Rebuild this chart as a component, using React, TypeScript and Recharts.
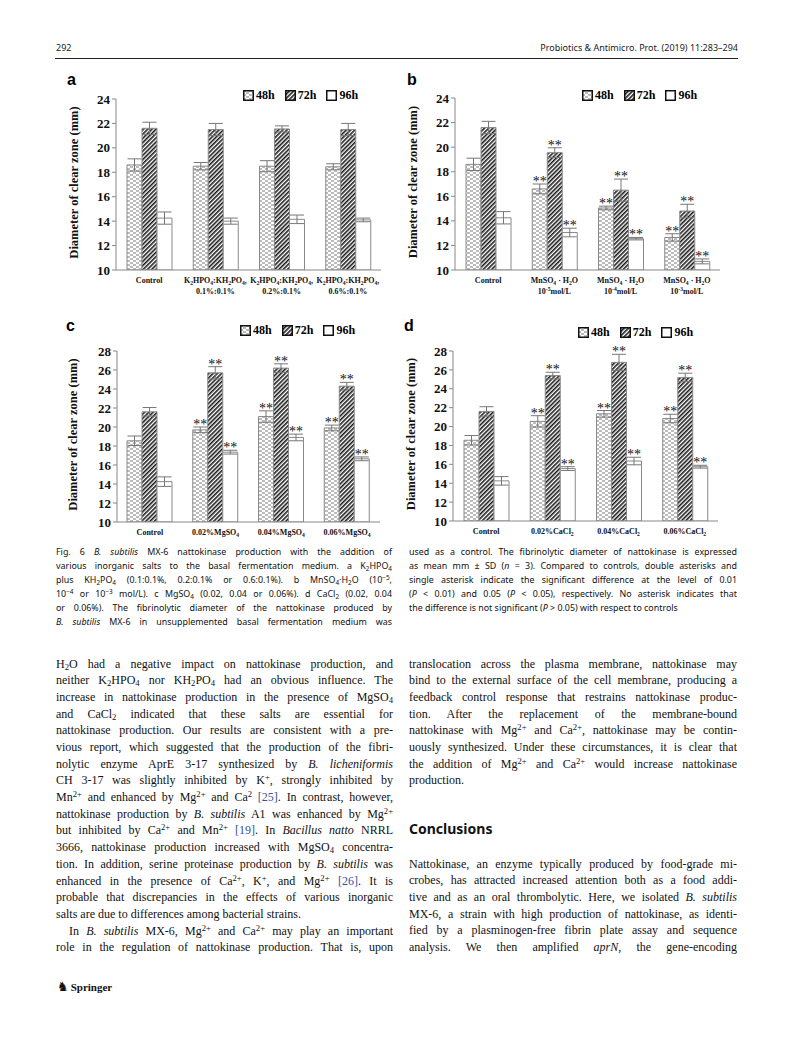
import React from "react";
import { BarChart, Bar, XAxis, YAxis, ErrorBar, LabelList } from "recharts";

const SERIF = '"Liberation Serif", "Times New Roman", serif';
const SANS = '"Noto Sans", "Liberation Sans", sans-serif';

// ---- data ----
const seriesNames = ["48h", "72h", "96h"];

const catsA = [
  "Control",
  "K_{2}HPO_{4}:KH_{2}PO_{4},|0.1%:0.1%",
  "K_{2}HPO_{4}:KH_{2}PO_{4},|0.2%:0.1%",
  "K_{2}HPO_{4}:KH_{2}PO_{4},|0.6%:0.1%",
];
const a48 = [18.6, 18.5, 18.5, 18.45];
const a48err = [0.5, 0.3, 0.45, 0.25];
const a72 = [21.6, 21.5, 21.55, 21.5];
const a72err = [0.5, 0.5, 0.25, 0.5];
const a96 = [14.25, 14.0, 14.15, 14.1];
const a96err = [0.5, 0.25, 0.35, 0.15];
const aSig = ["", "", "", ""];

const catsB = [
  "Control",
  "MnSO_{4} · H_{2}O|10^{-5}mol/L",
  "MnSO_{4} · H_{2}O|10^{-4}mol/L",
  "MnSO_{4} · H_{2}O|10^{-3}mol/L",
];
const b48 = [18.6, 16.6, 15.05, 12.65];
const b48err = [0.5, 0.4, 0.15, 0.3];
const b72 = [21.6, 19.55, 16.5, 14.8];
const b72err = [0.5, 0.4, 0.9, 0.55];
const b96 = [14.25, 13.05, 12.55, 10.7];
const b96err = [0.5, 0.35, 0.1, 0.2];
const bSig = ["", "**", "**", "**"];

const catsC = ["Control", "0.02%MgSO_{4}", "0.04%MgSO_{4}", "0.06%MgSO_{4}"];
const c48 = [18.55, 19.7, 21.1, 19.9];
const c48err = [0.5, 0.3, 0.6, 0.3];
const c72 = [21.6, 25.7, 26.2, 24.3];
const c72err = [0.45, 0.65, 0.45, 0.4];
const c96 = [14.25, 17.35, 18.9, 16.65];
const c96err = [0.5, 0.2, 0.35, 0.2];
const cSig = ["", "**", "**", "**"];

const catsD = ["Control", "0.02%CaCl_{2}", "0.04%CaCl_{2}", "0.06%CaCl_{2}"];
const d48 = [18.55, 20.55, 21.35, 20.85];
const d48err = [0.5, 0.6, 0.35, 0.45];
const d72 = [21.6, 25.4, 26.8, 25.2];
const d72err = [0.5, 0.35, 0.85, 0.45];
const d96 = [14.25, 15.55, 16.35, 15.75];
const d96err = [0.45, 0.2, 0.4, 0.15];
const dSig = ["", "**", "**", "**"];

const ticksAB = [10, 12, 14, 16, 18, 20, 22, 24];
const ticksCD = [10, 12, 14, 16, 18, 20, 22, 24, 26, 28];

const yTitle = "Diameter of clear zone (mm)";

// ---- layout ----
type Panel = {
  letter: string;
  cats: string[];
  vals: number[][];
  errs: number[][];
  sig: string[];
  ticks: number[];
  box: { left: number; top: number; width: number; height: number };
  plot: { x0: number; y0: number; x1: number; y1: number };
  legend: { x: number; y: number };
  letterPos: { x: number; y: number };
  yLabelX: number;
};

const panels: Panel[] = [
  {
    letter: "a",
    cats: catsA,
    vals: [a48, a72, a96],
    errs: [a48err, a72err, a96err],
    sig: aSig,
    ticks: ticksAB,
    box: { left: 55, top: 68, width: 335, height: 240 },
    plot: { x0: 116, y0: 99, x1: 381, y1: 270 },
    legend: { x: 243, y: 89 },
    letterPos: { x: 67, y: 72 },
    yLabelX: 74,
  },
  {
    letter: "b",
    cats: catsB,
    vals: [b48, b72, b96],
    errs: [b48err, b72err, b96err],
    sig: bSig,
    ticks: ticksAB,
    box: { left: 395, top: 68, width: 335, height: 240 },
    plot: { x0: 455, y0: 98, x1: 720, y1: 270 },
    legend: { x: 582, y: 89 },
    letterPos: { x: 407, y: 72 },
    yLabelX: 413,
  },
  {
    letter: "c",
    cats: catsC,
    vals: [c48, c72, c96],
    errs: [c48err, c72err, c96err],
    sig: cSig,
    ticks: ticksCD,
    box: { left: 55, top: 314, width: 335, height: 232 },
    plot: { x0: 117, y0: 351, x1: 380, y1: 522 },
    legend: { x: 240, y: 324 },
    letterPos: { x: 66, y: 318 },
    yLabelX: 73,
  },
  {
    letter: "d",
    cats: catsD,
    vals: [d48, d72, d96],
    errs: [d48err, d72err, d96err],
    sig: dSig,
    ticks: ticksCD,
    box: { left: 395, top: 314, width: 335, height: 232 },
    plot: { x0: 453, y0: 351, x1: 718, y1: 521 },
    legend: { x: 578, y: 326 },
    letterPos: { x: 404, y: 318 },
    yLabelX: 411,
  },
];

const fills = ["url(#pat48)", "url(#pat72)", "#ffffff"];

// ---- helpers ----
function svgRich(s: string, fs: number) {
  const parts = s.split(/(_\{[^}]*\}|\^\{[^}]*\})/).filter(Boolean);
  let shift = 0;
  return parts.map((t, i) => {
    let target = 0;
    let txt = t;
    let size = fs;
    if (t.startsWith("_{")) {
      target = fs * 0.25;
      txt = t.slice(2, -1);
      size = fs * 0.7;
    } else if (t.startsWith("^{")) {
      target = -fs * 0.4;
      txt = t.slice(2, -1);
      size = fs * 0.7;
    }
    const dy = target - shift;
    shift = target;
    return (
      <tspan key={i} dy={dy} fontSize={size}>
        {txt}
      </tspan>
    );
  });
}

function rich(s: string) {
  const parts = s.split(/(_\{[^}]*\}|\^\{[^}]*\}|\*[^*]+\*|\[\d+\])/).filter((t) => t !== "");
  return parts.map((t, i) => {
    if (t.startsWith("_{"))
      return (
        <sub key={i} style={{ fontSize: "0.72em", lineHeight: 0, verticalAlign: "-0.25em" }}>
          {t.slice(2, -1)}
        </sub>
      );
    if (t.startsWith("^{"))
      return (
        <sup key={i} style={{ fontSize: "0.72em", lineHeight: 0, verticalAlign: "0.45em" }}>
          {t.slice(2, -1)}
        </sup>
      );
    if (t.length > 2 && t.startsWith("*") && t.endsWith("*")) return <i key={i}>{t.slice(1, -1)}</i>;
    if (/^\[\d+\]$/.test(t))
      return (
        <span key={i} style={{ color: "#34509c" }}>
          {t}
        </span>
      );
    return <React.Fragment key={i}>{t}</React.Fragment>;
  });
}

const CatTick = (props: any) => {
  const { x, y, payload } = props;
  const lines = String(payload.value).split("|");
  return (
    <g transform={`translate(${x},${y})`}>
      {lines.map((ln, i) => (
        <text
          key={i}
          x={0}
          y={5 + i * 11}
          textAnchor="middle"
          fontFamily={SERIF}
          fontWeight="bold"
          fontSize={8}
          fill="#111"
        >
          {svgRich(ln, 8)}
        </text>
      ))}
    </g>
  );
};

function starContent(vals: number[], errs: number[]) {
  return (props: any) => {
    const vb = props.viewBox || props;
    const { x, y, width, height } = vb;
    const idx = props.index;
    if (props.value !== "**" || idx == null) return null;
    const ppu = height / (vals[idx] - 10);
    const errPx = errs[idx] * ppu;
    return (
      <text
        x={x + width / 2}
        y={y - errPx + 2}
        textAnchor="middle"
        fontFamily={SERIF}
        fontSize={14}
        fill="#111"
      >
        **
      </text>
    );
  };
}

function LegendBox({ p }: { p: Panel }) {
  return (
    <div
      style={{
        position: "absolute",
        left: p.legend.x,
        top: p.legend.y,
        display: "flex",
        alignItems: "center",
        gap: 10,
        fontFamily: SERIF,
        fontWeight: "bold",
        fontSize: 12,
        lineHeight: "12px",
      }}
    >
      {seriesNames.map((n, i) => (
        <div key={n} style={{ display: "flex", alignItems: "center", gap: 2 }}>
          <svg width={11} height={11}>
            <rect x={0.75} y={0.75} width={9.5} height={9.5} fill={fills[i]} stroke="#111" strokeWidth={1.5} />
          </svg>
          <span>{n}</span>
        </div>
      ))}
    </div>
  );
}

function ChartPanel({ p }: { p: Panel }) {
  const { box, plot } = p;
  const data = p.cats.map((cat, i) => ({
    cat,
    v48: p.vals[0][i],
    v72: p.vals[1][i],
    v96: p.vals[2][i],
    e48: p.errs[0][i],
    e72: p.errs[1][i],
    e96: p.errs[2][i],
    sig: p.sig[i],
  }));
  const margin = {
    top: plot.y0 - box.top,
    right: box.left + box.width - plot.x1,
    bottom: 0,
    left: 0,
  };
  const yMax = p.ticks[p.ticks.length - 1];
  const labelX = p.yLabelX - box.left;
  const keys = ["48", "72", "96"];
  return (
    <>
      <div
        style={{
          position: "absolute",
          left: p.letterPos.x,
          top: p.letterPos.y,
          fontFamily: '"Liberation Sans", Arial, sans-serif',
          fontWeight: "bold",
          fontSize: 16,
          lineHeight: "16px",
        }}
      >
        {p.letter}
      </div>
      <div style={{ position: "absolute", left: box.left, top: box.top }}>
        <BarChart width={box.width} height={box.height} data={data} margin={margin} barGap={0} barSize={15}>
          <XAxis
            dataKey="cat"
            height={box.top + box.height - plot.y1}
            interval={0}
            tickLine={false}
            axisLine={{ stroke: "#888" }}
            tick={<CatTick />}
          />
          <YAxis
            width={plot.x0 - box.left}
            domain={[10, yMax]}
            ticks={p.ticks}
            interval={0}
            allowDataOverflow
            axisLine={{ stroke: "#888" }}
            tickLine={{ stroke: "#888" }}
            tickSize={4}
            tick={{ fontFamily: SERIF, fontWeight: "bold", fontSize: 13, fill: "#111" }}
            label={{
              position: "insideLeft",
              content: (lp: any) => {
                const vb = lp.viewBox || { y: plot.y0 - box.top, height: plot.y1 - plot.y0 };
                const cy = vb.y + vb.height / 2 - 2;
                return (
                  <text
                    x={labelX}
                    y={cy}
                    transform={`rotate(-90 ${labelX} ${cy})`}
                    textAnchor="middle"
                    dominantBaseline="central"
                    fontFamily={SERIF}
                    fontWeight="bold"
                    fontSize={12.5}
                    fill="#111"
                  >
                    {yTitle}
                  </text>
                );
              },
            }}
          />
          {keys.map((k, si) => (
            <Bar
              key={k}
              dataKey={"v" + k}
              fill={fills[si]}
              stroke="#8a8a8a"
              strokeWidth={1}
              isAnimationActive={false}
            >
              <ErrorBar dataKey={"e" + k} width={7} stroke="#777" strokeWidth={1} direction="y" />
              <LabelList dataKey="sig" content={starContent(p.vals[si], p.errs[si])} />
            </Bar>
          ))}
        </BarChart>
      </div>
      <LegendBox p={p} />
    </>
  );
}

// ---- page text ----
const captionLeft = [
  "Fig. 6  *B. subtilis* MX-6 nattokinase production with the addition of",
  "various inorganic salts to the basal fermentation medium. a K_{2}HPO_{4}",
  "plus KH_{2}PO_{4} (0.1:0.1%, 0.2:0.1% or 0.6:0.1%). b MnSO_{4}·H_{2}O (10^{−5},",
  "10^{−4} or 10^{−3} mol/L). c MgSO_{4} (0.02, 0.04 or 0.06%). d CaCl_{2} (0.02, 0.04",
  "or 0.06%). The fibrinolytic diameter of the nattokinase produced by",
  "*B. subtilis* MX-6 in unsupplemented basal fermentation medium was",
];
const captionRight = [
  "used as a control. The fibrinolytic diameter of nattokinase is expressed",
  "as mean mm ± SD (*n* = 3). Compared to controls, double asterisks and",
  "single asterisk indicate the significant difference at the level of 0.01",
  "(*P* < 0.01) and 0.05 (*P* < 0.05), respectively. No asterisk indicates that",
  "~the difference is not significant (*P* > 0.05) with respect to controls",
];

const bodyLeft = [
  "H_{2}O had a negative impact on nattokinase production, and",
  "neither K_{2}HPO_{4} nor KH_{2}PO_{4} had an obvious influence. The",
  "increase in nattokinase production in the presence of MgSO_{4}",
  "and CaCl_{2} indicated that these salts are essential for",
  "nattokinase production. Our results are consistent with a pre-",
  "vious report, which suggested that the production of the fibri-",
  "nolytic enzyme AprE 3-17 synthesized by *B. licheniformis*",
  "CH 3-17 was slightly inhibited by K^{+}, strongly inhibited by",
  "Mn^{2+} and enhanced by Mg^{2+} and Ca^{2} [25]. In contrast, however,",
  "nattokinase production by *B. subtilis* A1 was enhanced by Mg^{2+}",
  "but inhibited by Ca^{2+} and Mn^{2+} [19]. In *Bacillus natto* NRRL",
  "3666, nattokinase production increased with MgSO_{4} concentra-",
  "tion. In addition, serine proteinase production by *B. subtilis* was",
  "enhanced in the presence of Ca^{2+}, K^{+}, and Mg^{2+} [26]. It is",
  "probable that discrepancies in the effects of various inorganic",
  "~salts are due to differences among bacterial strains.",
  ">In *B. subtilis* MX-6, Mg^{2+} and Ca^{2+} may play an important",
  "role in the regulation of nattokinase production. That is, upon",
];
const bodyRight1 = [
  "translocation across the plasma membrane, nattokinase may",
  "bind to the external surface of the cell membrane, producing a",
  "feedback control response that restrains nattokinase produc-",
  "tion. After the replacement of the membrane-bound",
  "nattokinase with Mg^{2+} and Ca^{2+}, nattokinase may be contin-",
  "uously synthesized. Under these circumstances, it is clear that",
  "the addition of Mg^{2+} and Ca^{2+} would increase nattokinase",
  "~production.",
];
const bodyRight2 = [
  "Nattokinase, an enzyme typically produced by food-grade mi-",
  "crobes, has attracted increased attention both as a food addi-",
  "tive and as an oral thrombolytic. Here, we isolated *B. subtilis*",
  "MX-6, a strain with high production of nattokinase, as identi-",
  "fied by a plasminogen-free fibrin plate assay and sequence",
  "analysis. We then amplified *aprN*, the gene-encoding",
];

function TextLines({
  lines,
  x,
  yCenter,
  width,
  lh,
  font,
  size,
}: {
  lines: string[];
  x: number;
  yCenter: number;
  width: number;
  lh: number;
  font: string;
  size: number;
}) {
  return (
    <>
      {lines.map((raw, i) => {
        let s = raw;
        let left = true;
        let indent = 0;
        if (s.startsWith("~")) {
          s = s.slice(1);
          left = false;
        }
        if (s.startsWith(">")) {
          s = s.slice(1);
          indent = 13;
        }
        return (
          <div
            key={i}
            style={{
              position: "absolute",
              left: x + indent,
              top: yCenter + i * lh - lh / 2,
              width: width - indent,
              height: lh,
              lineHeight: lh + "px",
              fontFamily: font,
              fontSize: size,
              whiteSpace: "nowrap",
              textAlign: left ? "justify" : "left",
              textAlignLast: left ? "justify" : "left",
              color: "#111",
            }}
          >
            {rich(s)}
          </div>
        );
      })}
    </>
  );
}

export default function App() {
  return (
    <div
      style={{
        position: "absolute",
        left: 0,
        top: 0,
        width: 794,
        height: 1054,
        background: "#fff",
        overflow: "hidden",
      }}
    >
      <svg width={0} height={0} style={{ position: "absolute" }}>
        <defs>
          <pattern id="pat48" width={6} height={4} patternUnits="userSpaceOnUse">
            <rect width={6} height={4} fill="#fff" />
            <rect x={0} y={0.5} width={3} height={1} fill="#7a7a7a" />
            <rect x={3} y={2.5} width={3} height={1} fill="#7a7a7a" />
          </pattern>
          <pattern id="pat72" width={3} height={3} patternUnits="userSpaceOnUse" patternTransform="rotate(45)">
            <rect width={3} height={3} fill="#fff" />
            <rect width={1.6} height={3} fill="#1a1a1a" />
          </pattern>
        </defs>
      </svg>

      {/* running header */}
      <div style={{ position: "absolute", left: 56, top: 41, fontFamily: SANS, fontSize: 9, color: "#222" }}>292</div>
      <div
        style={{
          position: "absolute",
          right: 794 - 738,
          top: 41,
          fontFamily: SANS,
          fontSize: 9,
          color: "#222",
        }}
      >
        Probiotics &amp; Antimicro. Prot. (2019) 11:283–294
      </div>
      <div style={{ position: "absolute", left: 55, top: 58, width: 683, height: 0.8, background: "#222" }} />

      {panels.map((p) => (
        <ChartPanel key={p.letter} p={p} />
      ))}

      <TextLines lines={captionLeft} x={56} yCenter={552} width={336} lh={14} font={SANS} size={8.9} />
      <TextLines lines={captionRight} x={409} yCenter={552} width={328} lh={14} font={SANS} size={8.9} />

      <TextLines lines={bodyLeft} x={56} yCenter={664} width={337} lh={16.68} font={SERIF} size={12} />
      <TextLines lines={bodyRight1} x={409} yCenter={664} width={328} lh={16.68} font={SERIF} size={12} />
      <div
        style={{
          position: "absolute",
          left: 409,
          top: 819,
          fontFamily: SANS,
          fontWeight: "bold",
          fontSize: 14,
          lineHeight: "20px",
          color: "#111",
        }}
      >
        Conclusions
      </div>
      <TextLines lines={bodyRight2} x={409} yCenter={864} width={328} lh={16.68} font={SERIF} size={12} />

      <div
        style={{
          position: "absolute",
          left: 57,
          top: 980,
          fontFamily: SERIF,
          fontWeight: "bold",
          fontSize: 11,
          lineHeight: "14px",
          color: "#111",
          display: "flex",
          alignItems: "center",
          gap: 2,
        }}
      >
        <span style={{ fontFamily: '"DejaVu Sans", sans-serif', fontSize: 13 }}>♞</span>
        <span>Springer</span>
      </div>
    </div>
  );
}
